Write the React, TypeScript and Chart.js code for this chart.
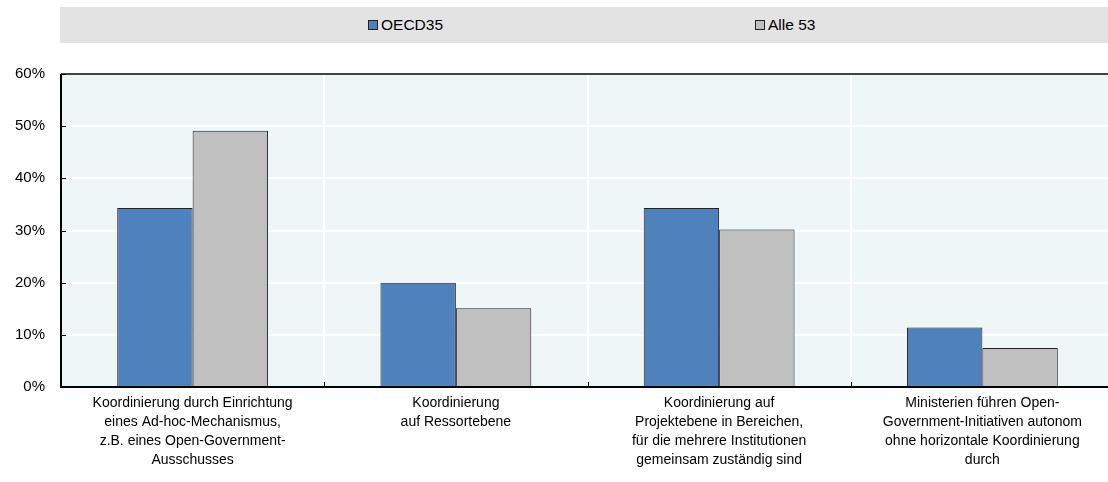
import React, { useEffect, useRef } from "react";
import { Chart, registerables } from "chart.js";

Chart.register(...registerables);

const categories: string[][] = [
  ["Koordinierung durch Einrichtung", "eines Ad-hoc-Mechanismus,", "z.B. eines Open-Government-", "Ausschusses"],
  ["Koordinierung", "auf Ressortebene"],
  ["Koordinierung auf", "Projektebene in Bereichen,", "für die mehrere Institutionen", "gemeinsam zuständig sind"],
  ["Ministerien führen Open-", "Government-Initiativen autonom", "ohne horizontale Koordinierung", "durch"],
];
const oecd35: number[] = [34.3, 20.0, 34.3, 11.4];
const alle53: number[] = [49.1, 15.1, 30.2, 7.5];
const seriesNames: string[] = ["OECD35", "Alle 53"];
const yTicks: number[] = [0, 10, 20, 30, 40, 50, 60];

const FONT = "'Liberation Sans', Arial, sans-serif";
const BLUE = "#4f81bd";
const GREY = "#c0c0c0";

// Plot background and axis decorations (inner tick marks, axis lines, top border)
const framePlugin = {
  id: "frame",
  beforeDraw(chart: any) {
    const { ctx, chartArea: a } = chart;
    ctx.save();
    ctx.fillStyle = "#eef6f8";
    ctx.fillRect(a.left, a.top, a.right - a.left, a.bottom - a.top);
    ctx.restore();
  },
  afterDatasetsDraw(chart: any) {
    const { ctx, chartArea: a, scales } = chart;
    ctx.save();
    // top border
    ctx.strokeStyle = "#444";
    ctx.lineWidth = 2;
    ctx.beginPath();
    ctx.moveTo(a.left, a.top);
    ctx.lineTo(a.right, a.top);
    ctx.stroke();
    // y ticks pointing inward
    ctx.strokeStyle = "#000";
    ctx.lineWidth = 1;
    for (const v of yTicks) {
      const y = Math.round(scales.y.getPixelForValue(v)) + 0.5;
      ctx.beginPath();
      ctx.moveTo(a.left, y);
      ctx.lineTo(a.left + 5, y);
      ctx.stroke();
    }
    // x ticks at category boundaries
    const n = categories.length;
    const w = (a.right - a.left) / n;
    for (let i = 1; i < n; i++) {
      const x = Math.round(a.left + w * i) + 0.5;
      ctx.beginPath();
      ctx.moveTo(x, a.bottom);
      ctx.lineTo(x, a.bottom - 5);
      ctx.stroke();
    }
    // axis lines
    ctx.lineWidth = 2;
    ctx.beginPath();
    ctx.moveTo(a.left, a.top);
    ctx.lineTo(a.left, a.bottom);
    ctx.stroke();
    ctx.beginPath();
    ctx.moveTo(a.left - 1, a.bottom);
    ctx.lineTo(a.right, a.bottom);
    ctx.stroke();
    ctx.restore();
  },
};

function BarChart() {
  const ref = useRef<HTMLCanvasElement | null>(null);
  useEffect(() => {
    if (!ref.current) return;
    const border = { top: 1, left: 1, right: 1, bottom: 0 };
    const chart = new Chart(ref.current, {
      type: "bar",
      data: {
        labels: categories,
        datasets: [
          { label: seriesNames[0], data: oecd35, backgroundColor: BLUE, borderColor: "#222", borderWidth: border, categoryPercentage: 0.573, barPercentage: 1 },
          { label: seriesNames[1], data: alle53, backgroundColor: GREY, borderColor: "#222", borderWidth: border, categoryPercentage: 0.573, barPercentage: 1 },
        ],
      },
      options: {
        animation: false,
        responsive: false,
        maintainAspectRatio: false,
        layout: { padding: { top: 74, right: 0, left: 0, bottom: 0 } },
        plugins: { legend: { display: false }, tooltip: { enabled: false } },
        scales: {
          x: {
            grid: { color: "#ffffff", lineWidth: 2, drawTicks: false },
            border: { display: false },
            ticks: { color: "#000", font: { family: FONT, size: 14, lineHeight: 1.38 }, padding: 6, maxRotation: 0, autoSkip: false },
            afterFit(scale: any) { scale.height = 95; },
          },
          y: {
            min: 0,
            max: 60,
            grid: { color: "#ffffff", lineWidth: 2, drawTicks: false },
            border: { display: false },
            ticks: { stepSize: 10, color: "#000", font: { family: FONT, size: 15 }, padding: 16, callback: (v: any) => v + "%" },
            afterFit(scale: any) { scale.width = 61; },
          },
        },
      },
      plugins: [framePlugin],
    });
    return () => chart.destroy();
  }, []);
  // The plot runs slightly past the right edge of the visible area
  return <canvas ref={ref} width={1114} height={482} style={{ position: "absolute", left: 0, top: 0 }} />;
}

function Legend() {
  const item = (name: string, color: string, left: number) => (
    <div style={{ position: "absolute", left, top: 0, height: 36, display: "flex", alignItems: "center" }}>
      <span style={{ width: 8, height: 8, border: "1px solid #222", background: color, display: "inline-block", marginRight: 3 }} />
      <span style={{ fontFamily: FONT, fontSize: 15.5, color: "#000" }}>{name}</span>
    </div>
  );
  return (
    <div style={{ position: "absolute", left: 60, top: 7, width: 1048, height: 36, background: "#e3e3e3" }}>
      {item(seriesNames[0], BLUE, 308)}
      {item(seriesNames[1], GREY, 695)}
    </div>
  );
}

export default function App() {
  return (
    <div style={{ position: "fixed", left: 0, top: 0, width: 1108, height: 482, background: "#fff", overflow: "hidden" }}>
      <BarChart />
      <Legend />
    </div>
  );
}
